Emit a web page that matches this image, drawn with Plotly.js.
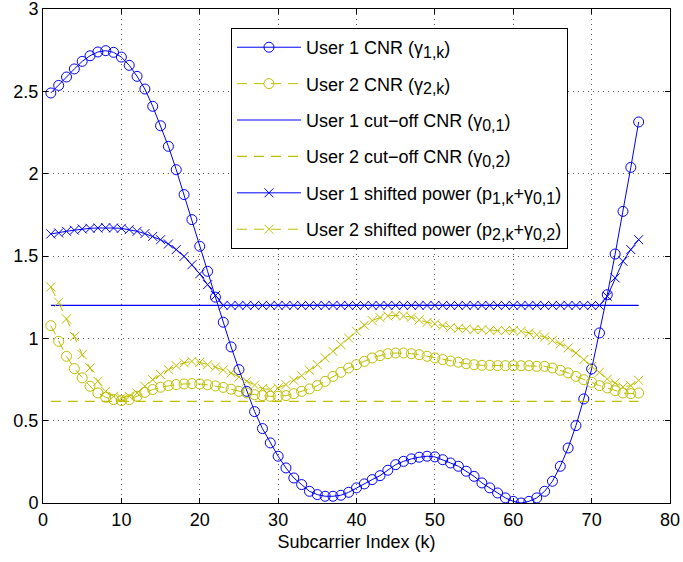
<!DOCTYPE html>
<html>
<head>
<meta charset="utf-8">
<script src="https://cdn.plot.ly/plotly-3.0.1.min.js"></script>
<style>html,body{margin:0;padding:0;background:#fff;}#plot{width:683px;height:562px;}</style>
</head>
<body>
<div id="plot"></div>
<script>
// Subcarrier index k
const subcarrier = [1,2,3,4,5,6,7,8,9,10,11,12,13,14,15,16,17,18,19,20,21,22,23,24,25,26,27,28,29,30,31,32,33,34,35,36,37,38,39,40,41,42,43,44,45,46,47,48,49,50,51,52,53,54,55,56,57,58,59,60,61,62,63,64,65,66,67,68,69,70,71,72,73,74,75,76];

// User 1 CNR (gamma_1,k)
const user1Cnr = [2.49,2.536,2.587,2.636,2.682,2.716,2.739,2.747,2.737,2.708,
  2.658,2.591,2.514,2.409,2.291,2.166,2.024,1.873,1.721,1.559,
  1.407,1.25,1.098,0.948,0.81,0.678,0.555,0.452,0.365,0.284,
  0.213,0.152,0.112,0.071,0.051,0.041,0.041,0.047,0.065,0.092,
  0.116,0.142,0.166,0.199,0.233,0.253,0.268,0.278,0.284,0.28,
  0.263,0.243,0.223,0.193,0.162,0.122,0.092,0.061,0.031,0.01,
  0.0,0.01,0.031,0.071,0.132,0.223,0.334,0.47,0.632,0.814,
  1.033,1.265,1.512,1.771,2.038,2.314];

// User 2 CNR (gamma_2,k)
const user2Cnr = [1.077,0.982,0.891,0.816,0.76,0.709,0.668,0.642,0.628,0.622,
  0.628,0.648,0.672,0.689,0.703,0.713,0.719,0.723,0.725,0.723,
  0.718,0.711,0.702,0.691,0.678,0.668,0.658,0.652,0.648,0.648,
  0.652,0.664,0.678,0.693,0.713,0.739,0.769,0.794,0.82,0.84,
  0.86,0.881,0.895,0.907,0.911,0.911,0.907,0.901,0.891,0.881,
  0.871,0.862,0.855,0.846,0.84,0.836,0.836,0.834,0.834,0.834,
  0.834,0.834,0.83,0.83,0.82,0.806,0.79,0.769,0.749,0.733,
  0.713,0.699,0.682,0.668,0.664,0.668];

// User 1 shifted power (p_1,k + gamma_0,1)
const user1Shifted = [1.634,1.64,1.65,1.657,1.664,1.668,1.67,1.672,1.67,1.668,
  1.66,1.65,1.636,1.619,1.599,1.573,1.539,1.498,1.447,1.392,
  1.326,1.26,1.2,1.2,1.2,1.2,1.2,1.2,1.2,1.2,
  1.2,1.2,1.2,1.2,1.2,1.2,1.2,1.2,1.2,1.2,
  1.2,1.2,1.2,1.2,1.2,1.2,1.2,1.2,1.2,1.2,
  1.2,1.2,1.2,1.2,1.2,1.2,1.2,1.2,1.2,1.2,
  1.2,1.2,1.2,1.2,1.2,1.2,1.2,1.2,1.2,1.2,
  1.2,1.255,1.367,1.468,1.539,1.599];

// User 2 shifted power (p_2,k + gamma_0,2)
const user2Shifted = [1.312,1.219,1.118,1.012,0.901,0.82,0.739,0.678,0.648,0.638,
  0.648,0.668,0.709,0.749,0.78,0.81,0.834,0.851,0.86,0.854,
  0.84,0.826,0.808,0.79,0.765,0.739,0.716,0.695,0.689,0.699,
  0.719,0.745,0.773,0.806,0.84,0.881,0.921,0.962,1.002,1.043,
  1.08,1.108,1.126,1.136,1.14,1.136,1.128,1.112,1.097,1.089,
  1.077,1.066,1.06,1.057,1.053,1.053,1.049,1.047,1.047,1.047,
  1.043,1.033,1.022,1.008,0.988,0.966,0.942,0.911,0.871,0.83,
  0.794,0.753,0.729,0.705,0.713,0.745];

// Cut-off CNR lines
const cutoffK = [1, 76];
const user1Cutoff = [1.2, 1.2];
const user2Cutoff = [0.617, 0.617];

const xTicks = [0,10,20,30,40,50,60,70,80];
const yTicks = [0,0.5,1,1.5,2,2.5,3];
const yTickLabels = ['0','0.5','1','1.5','2','2.5','3'];

const BLUE = '#0000ff';
const YEL = '#bfbf00';
const DASH = '10px,7px';

function sb(t) { return '<sub><span style="font-size:16px">' + t + '</span></sub>'; }

const traces = [
  {x: subcarrier, y: user1Cnr, name: 'User 1 CNR (γ' + sb('1,k') + ')', mode: 'lines+markers', legendgroup: 'a',
   line: {color: BLUE, width: 1}, marker: {symbol: 'circle-open', size: 10, color: BLUE, line: {width: 1, color: BLUE}}},
  {x: subcarrier, y: user2Cnr, name: 'User 2 CNR (γ' + sb('2,k') + ')', mode: 'lines+markers', legendgroup: 'b',
   line: {color: YEL, width: 1, dash: DASH}, marker: {symbol: 'circle-open', size: 10, color: YEL, line: {width: 1, color: YEL}}},
  {x: cutoffK, y: user1Cutoff, name: 'User 1 cut−off CNR (γ' + sb('0,1') + ')', mode: 'lines', legendgroup: 'c',
   line: {color: BLUE, width: 1.2}},
  {x: cutoffK, y: user2Cutoff, name: 'User 2 cut−off CNR (γ' + sb('0,2') + ')', mode: 'lines', legendgroup: 'd',
   line: {color: YEL, width: 1.2, dash: DASH}},
  {x: subcarrier, y: user1Shifted, name: 'User 1 shifted power (p' + sb('1,k') + '+γ' + sb('0,1') + ')', mode: 'lines+markers', legendgroup: 'e',
   line: {color: BLUE, width: 1}, marker: {symbol: 'x-thin-open', size: 9, color: BLUE, line: {width: 1, color: BLUE}}},
  {x: subcarrier, y: user2Shifted, name: 'User 2 shifted power (p' + sb('2,k') + '+γ' + sb('0,2') + ')', mode: 'lines+markers', legendgroup: 'f',
   line: {color: YEL, width: 1, dash: DASH}, marker: {symbol: 'x-thin-open', size: 9, color: YEL, line: {width: 1, color: YEL}}}
];

const axisCommon = {
  showline: true, linecolor: '#000', linewidth: 1, mirror: 'ticks',
  ticks: 'inside', ticklen: 5, tickwidth: 1, tickcolor: '#000',
  showgrid: true, gridcolor: '#555', gridwidth: 1, griddash: '1px,4px',
  zeroline: false, tickfont: {size: 18, color: '#000'}, ticklabeloverflow: 'allow'
};

const layout = {
  width: 683, height: 562,
  margin: {l: 43, r: 13, t: 9, b: 59},
  paper_bgcolor: '#fff', plot_bgcolor: '#fff',
  font: {family: '"Liberation Sans", Arial, sans-serif', size: 18, color: '#000'},
  showlegend: true,
  legend: {x: 0.2998, y: 0.9615, xanchor: 'left', yanchor: 'top',
    bgcolor: '#fff', bordercolor: '#000', borderwidth: 1,
    font: {size: 18, color: '#000'}, traceorder: 'grouped', tracegroupgap: 10, itemwidth: 64},
  xaxis: Object.assign({}, axisCommon, {range: [0, 80], tickvals: xTicks, ticktext: xTicks.map(String),
    title: {text: 'Subcarrier Index (k)', font: {size: 18}, standoff: 6}}),
  yaxis: Object.assign({}, axisCommon, {range: [0, 3], tickvals: yTicks, ticktext: yTickLabels})
};

Plotly.newPlot('plot', traces, layout, {displayModeBar: false, staticPlot: true});
</script>
</body>
</html>
